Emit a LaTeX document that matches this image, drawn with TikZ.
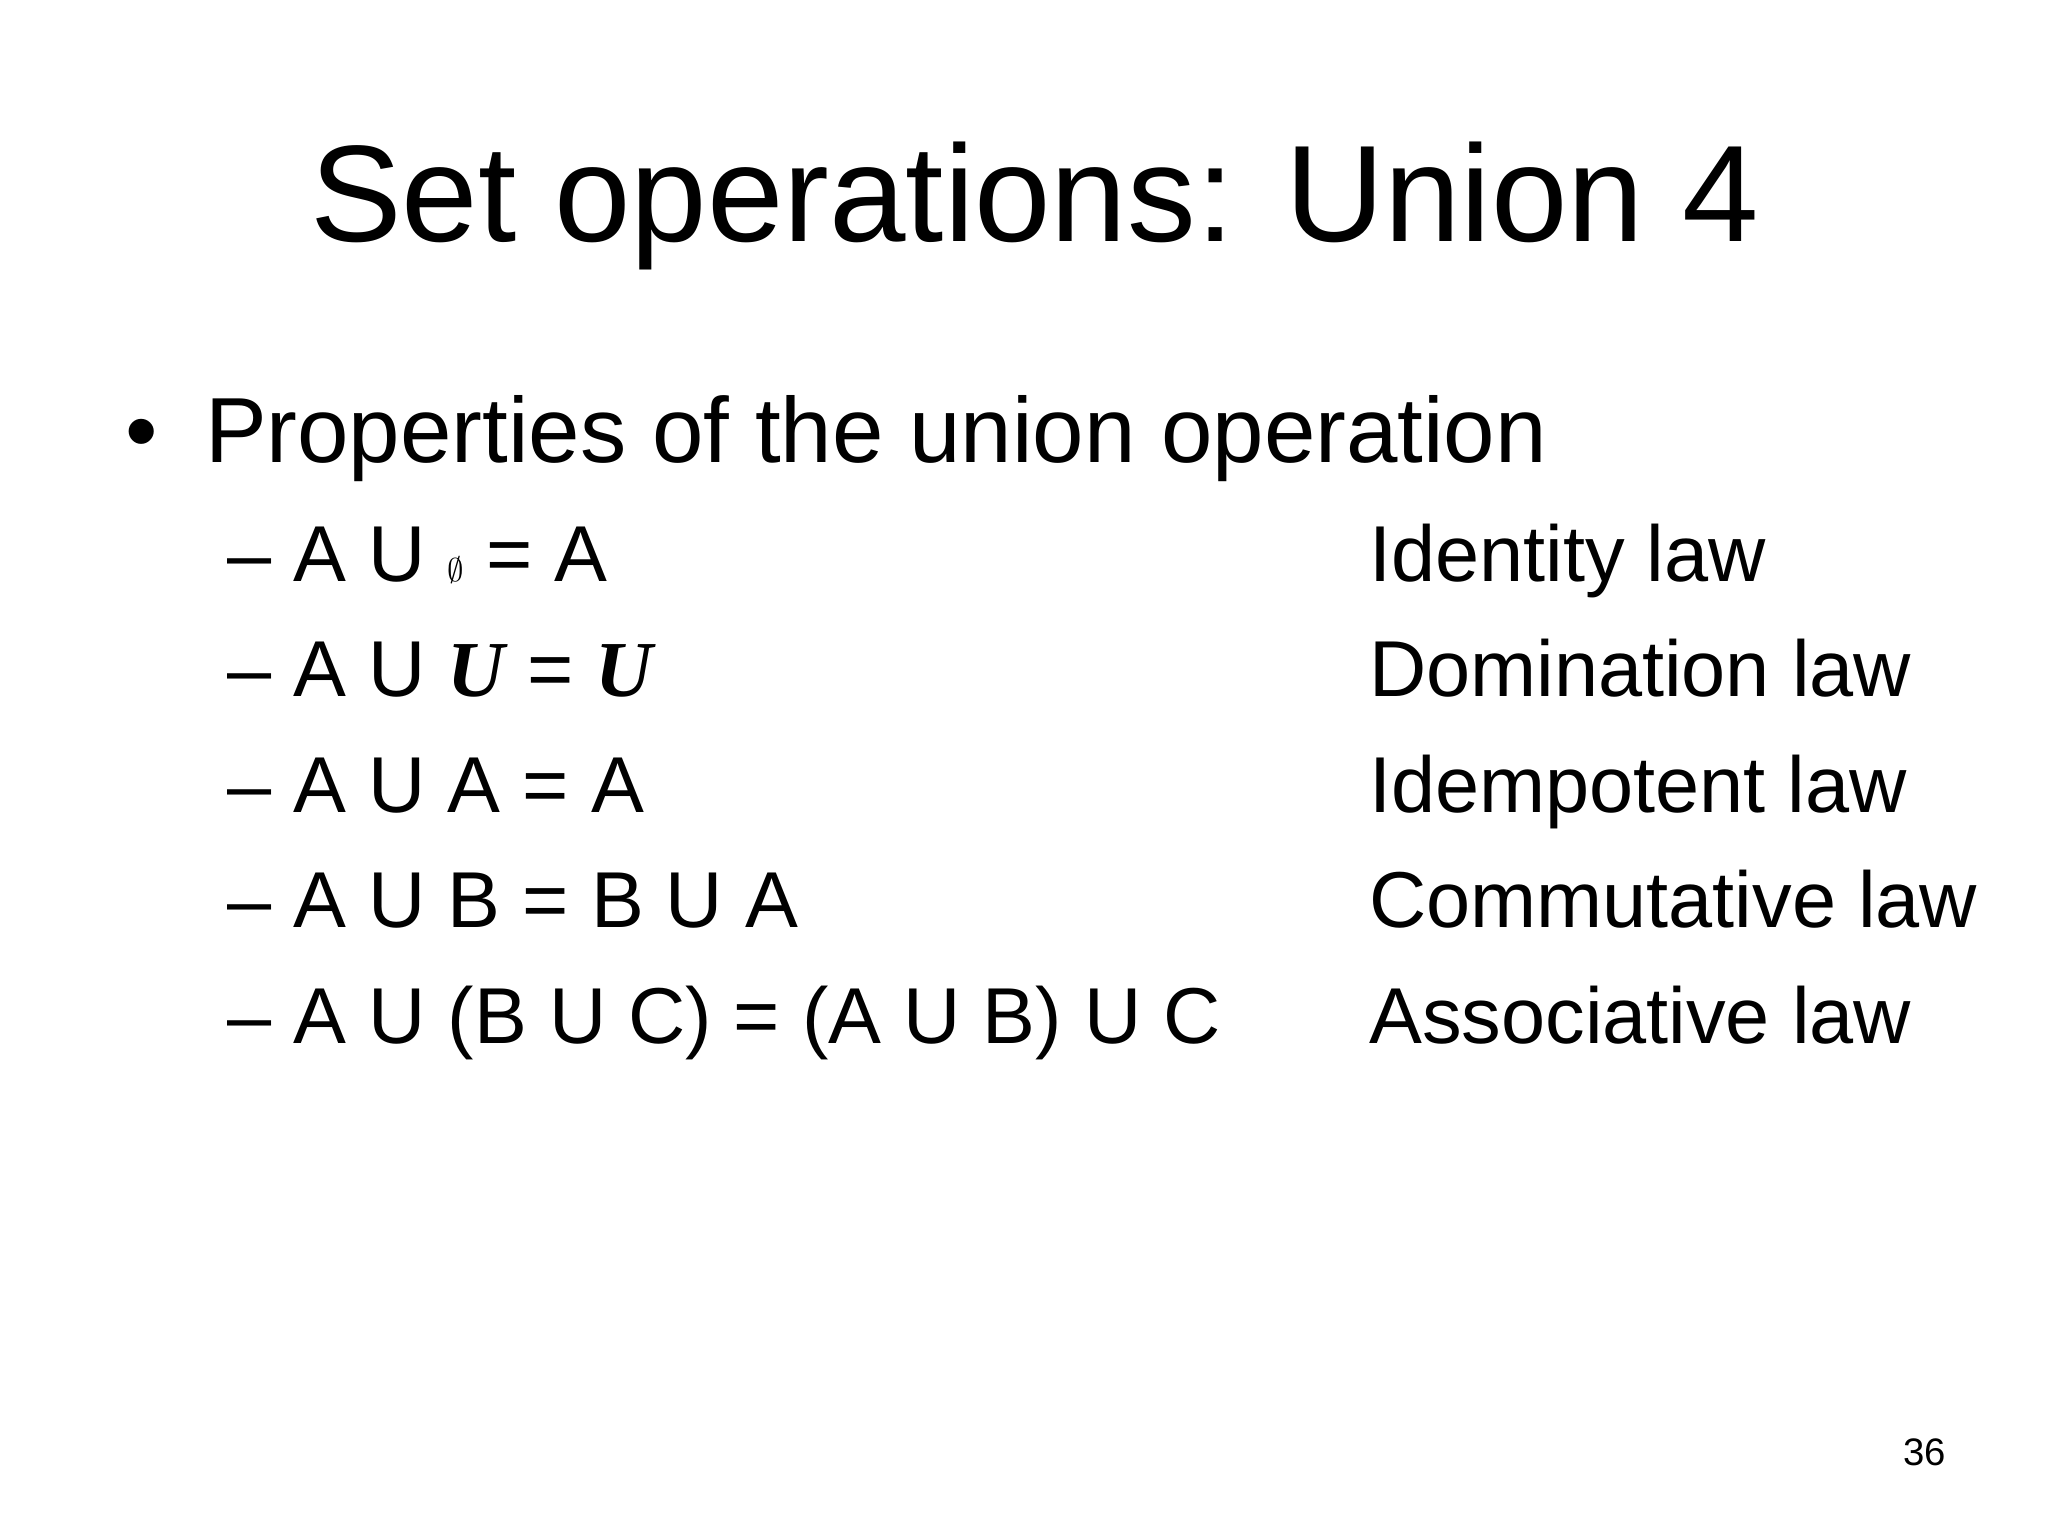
\documentclass[tikz,border=0pt]{standalone}
\usepackage{fontspec}
\setmainfont{Liberation Sans}
\newfontfamily\serifbi[BoldItalicFont={Liberation Serif Bold Italic}]{Liberation Serif}
\begin{document}
\begin{tikzpicture}[x=1pt,y=1pt,
  txt/.style={anchor=base west,inner sep=0pt,font=\fontsize{60}{70}\selectfont},
  ttl/.style={anchor=base,inner sep=0pt,font=\fontsize{104}{120}\selectfont},
  bul/.style={anchor=base west,inner sep=0pt,font=\fontsize{70}{80}\selectfont}]
\useasboundingbox[fill=white] (0,0) rectangle (1550,-1163);
\newcommand{\UU}{{\serifbi\bfseries\itshape U}}
\node[ttl] (title) at (783,-183) {Set operations: Union 4};
\node[bul] (b) at (95,-350) {•};
\node[bul] (p) at (155,-350) {Properties of the union operation};
\node[txt] (l1) at (172,-440) {– A U $\emptyset$ = A};
\node[txt] (l2) at (172,-527) {– A U \UU{} = \UU};
\node[txt] (l3) at (172,-615) {– A U A = A};
\node[txt] (l4) at (172,-702) {– A U B = B U A};
\node[txt] (l5) at (172,-790) {– A U (B U C) = (A U B) U C};
\node[txt] (r1) at (1036,-440) {Identity law};
\node[txt] (r2) at (1036,-527) {Domination law};
\node[txt] (r3) at (1036,-615) {Idempotent law};
\node[txt] (r4) at (1036,-702) {Commutative law};
\node[txt] (r5) at (1036,-790) {Associative law};
\node[anchor=base east,inner sep=0pt,font=\fontsize{29}{34}\selectfont] (n) at (1473,-1109) {36};
\end{tikzpicture}
\end{document}
